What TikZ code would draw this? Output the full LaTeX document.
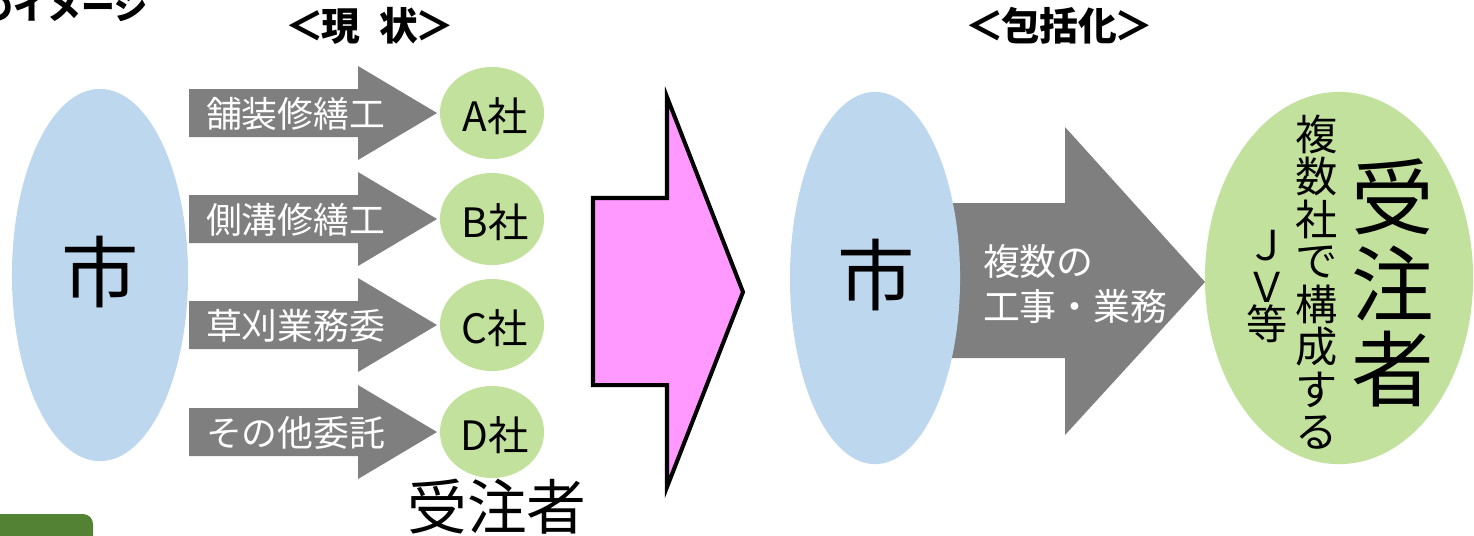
\documentclass[tikz,border=0pt]{standalone}
\usepackage{fontspec}
\setmainfont{Noto Sans CJK JP}
\usetikzlibrary{shapes.geometric}
\definecolor{cityblue}{HTML}{BDD7EE}
\definecolor{firmgreen}{HTML}{C2E19C}
\definecolor{arrowgray}{HTML}{7F7F7F}
\definecolor{pinkfill}{HTML}{FF99FF}
\definecolor{darkgreen}{HTML}{548235}
\newcommand\myfs[1]{\fontsize{#1}{#1}\selectfont}
\tikzset{
  txt/.style={inner sep=0pt, outer sep=0pt},
  wtxt/.style={txt, text=white},
  head/.style={txt, font=\myfs{11pt}\bfseries},
  city/.style={ellipse, fill=cityblue, inner sep=0pt, minimum width=1.76cm, minimum height=3.72cm},
  firm/.style={ellipse, fill=firmgreen, inner sep=0pt, minimum width=1.04cm, minimum height=0.92cm},
  graybody/.style={fill=arrowgray},
}
\begin{document}
\begin{tikzpicture}[x=0.01cm, y=-0.01cm]
\useasboundingbox (0,0) rectangle (1474,535);
% top-left cut-off title
\node[txt, anchor=east, font=\myfs{9.6pt}\bfseries] (title) at (148,7) {のイメージ};
\node[head] (now) at (370,26) {＜\kern-0.8pt 現\kern5.5pt 状\kern-0.8pt ＞};
\node[head] (after) at (1059,26) {＜\kern-0.8pt 包括化\kern-0.8pt ＞};
% bottom-left green tab
\fill[darkgreen, rounded corners=0.1cm] (-30,514) rectangle (93,600);
% left city
\node[city] (city1) at (100,275) {};
\node[txt, font=\myfs{22pt}] (city1t) at (100,272) {市};
% gray arrows and firms
\foreach \yy/\lab/\co/\nm in {113/舗装修繕工/A社/a, 219/側溝修繕工/B社/b, 325/草刈業務委/C社/c, 432/その他委託/D社/d} {
  \fill[graybody] (189,{\yy-24}) -- (358,{\yy-24}) -- (358,{\yy-47}) -- (437,\yy) -- (358,{\yy+47}) -- (358,{\yy+24}) -- (189,{\yy+24}) -- cycle;
  \node[wtxt, anchor=west, font=\myfs{10.2pt}] (lab\nm) at (206,{\yy+1}) {\lab};
  \node[firm] (firm\nm) at (492,\yy) {};
  \node[txt, font=\myfs{11.5pt}] (firmt\nm) at (495,{\yy+3}) {\co};
}
\node[txt, font=\myfs{17pt}] (recv1) at (497,507) {受注者};
% pink transition arrow
\draw[line width=1.15pt, fill=pinkfill, line join=miter] (593,198) -- (667,198) -- (667,97) -- (743,292) -- (667,487) -- (667,385) -- (593,385) -- cycle;
% right big arrow
\fill[graybody] (930,203) -- (1065,203) -- (1065,127) -- (1205,282) -- (1065,435) -- (1065,358) -- (930,358) -- cycle;
\node[wtxt, anchor=west, font=\myfs{10.5pt}] (work1) at (983,261) {複数の};
\node[wtxt, anchor=west, font=\myfs{10.5pt}] (work2) at (983,306) {工事・業務};
% right city
\node[city, minimum width=1.70cm] (city2) at (875,278) {};
\node[txt, font=\myfs{22pt}] (city2t) at (876,275) {市};
% right receiver
\node[ellipse, fill=firmgreen, inner sep=0pt, minimum width=2.68cm, minimum height=3.72cm] (recv2) at (1339,278) {};
\foreach \c/\yy [count=\i] in {受/197, 注/283, 者/369}
  \node[txt, font=\myfs{23.5pt}] (big\i) at (1393,\yy) {\c};
\foreach \c [count=\i] in {複,数,社,で,構,成,す,る}
  \node[txt, font=\myfs{12pt}] (col\i) at (1317,{134+(\i-1)*42.6}) {\c};
\foreach \c/\yy [count=\i] in {Ｊ/246, Ｖ/287, 等/324}
  \node[txt, font=\myfs{11.7pt}] (jv\i) at (1267,\yy) {\c};
\end{tikzpicture}
\end{document}
